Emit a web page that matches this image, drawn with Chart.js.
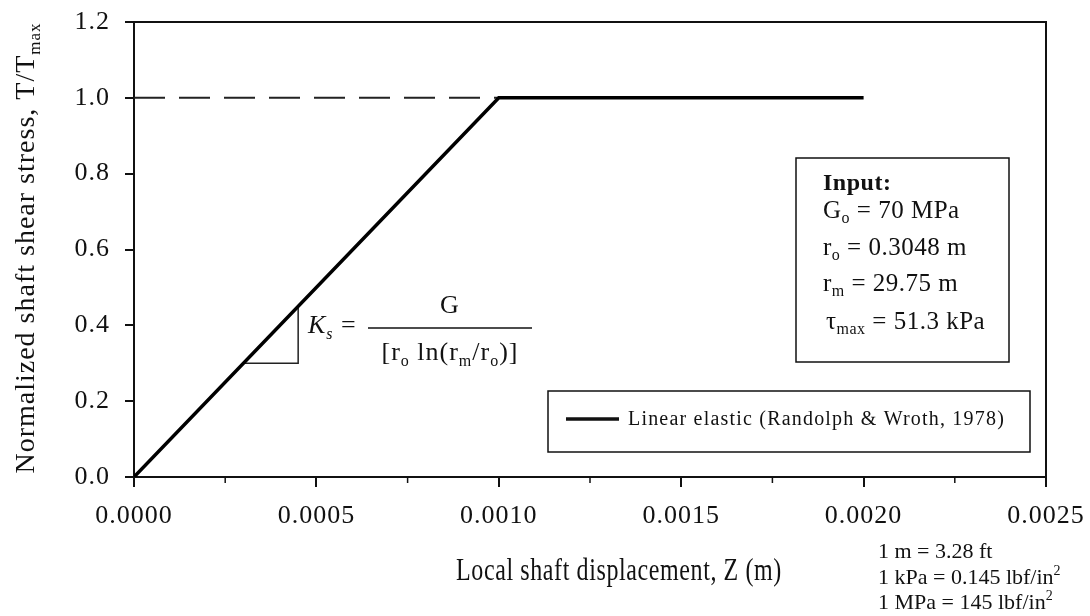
<!DOCTYPE html>
<html lang="en">
<head>
<meta charset="UTF-8">
<title>Linear elastic shaft response</title>
<script src="https://cdn.jsdelivr.net/npm/chart.js@4.4.0/dist/chart.umd.min.js"></script>
<style>
    body { margin: 0; background: #fff; }
    #chart { display: block; }
</style>
</head>
<body>
<canvas id="chart" width="1090" height="616"></canvas>
<script>
    // local shaft displacement Z (m) vs normalized shear stress T/Tmax
    const zLinear = [0, 0.0010, 0.0020];
    const tLinear = [0, 1.0, 1.0];
    const zDashed = [0, 0.0010];
    const tDashed = [1.0, 1.0];
    // small slope triangle under the elastic line
    const zSlope = [0.0003, 0.00045, 0.00045];
    const tSlope = [0.3, 0.3, 0.45];

    const xTicks = [0, 0.0005, 0.0010, 0.0015, 0.0020, 0.0025];
    const xMinor = [0.00025, 0.00075, 0.00125, 0.00175, 0.00225];
    const yTicks = [0, 0.2, 0.4, 0.6, 0.8, 1.0, 1.2];

    const legendLabel = 'Linear elastic (Randolph & Wroth, 1978)';

    const SERIF = '"Liberation Serif", "Times New Roman", serif';

    const toPts = (xs, ys) => xs.map((x, i) => ({ x: x, y: ys[i] }));

    // draws text made of [text, kind] parts; kind: '', 'b', 'i', 'sub', 'isub', 'sup'
    function rich(ctx, x, y, parts, size, align) {
        const fontFor = k => {
            if (k === 'b') return 'bold ' + size + 'px ' + SERIF;
            if (k === 'i') return 'italic ' + size + 'px ' + SERIF;
            if (k === 'sub' || k === 'sup') return Math.round(size * 0.62) + 'px ' + SERIF;
            if (k === 'isub') return 'italic ' + Math.round(size * 0.62) + 'px ' + SERIF;
            return size + 'px ' + SERIF;
        };
        let w = 0;
        parts.forEach(p => { ctx.font = fontFor(p[1]); w += ctx.measureText(p[0]).width; });
        let cx = align === 'center' ? x - w / 2 : x;
        ctx.textAlign = 'left';
        ctx.textBaseline = 'middle';
        parts.forEach(p => {
            ctx.font = fontFor(p[1]);
            let dy = 0;
            if (p[1] === 'sub' || p[1] === 'isub') dy = size * 0.32;
            if (p[1] === 'sup') dy = -size * 0.3;
            ctx.fillText(p[0], cx, y + dy);
            cx += ctx.measureText(p[0]).width;
        });
    }

    const decorations = {
        id: 'decorations',
        beforeDraw(chart) {
            chart.ctx.letterSpacing = '1px';
        },
        afterDatasetsDraw(chart) {
            const ctx = chart.ctx;
            const a = chart.chartArea;
            const xs = chart.scales.x;
            ctx.save();
            ctx.strokeStyle = '#111';
            ctx.lineWidth = 2;
            // top and right frame
            ctx.beginPath();
            ctx.moveTo(a.left, a.top);
            ctx.lineTo(a.right, a.top);
            ctx.lineTo(a.right, a.bottom);
            ctx.stroke();
            // minor ticks on x axis
            ctx.lineWidth = 1.5;
            xMinor.forEach(v => {
                const px = xs.getPixelForValue(v);
                ctx.beginPath();
                ctx.moveTo(px, a.bottom);
                ctx.lineTo(px, a.bottom + 6);
                ctx.stroke();
            });
            ctx.restore();
        },
        afterDraw(chart) {
            const ctx = chart.ctx;
            ctx.save();
            ctx.fillStyle = '#111';
            ctx.strokeStyle = '#111';

            // axis titles
            ctx.letterSpacing = '0.6px';
            ctx.save();
            ctx.translate(619, 571);
            ctx.scale(1, 1.35);
            rich(ctx, 0, 0, [['Local shaft displacement, Z (m)', '']], 24, 'center');
            ctx.restore();

            ctx.letterSpacing = '1px';
            ctx.save();
            ctx.translate(27, 248);
            ctx.rotate(-Math.PI / 2);
            rich(ctx, 0, 0, [['Normalized shaft shear stress, T/T', ''], ['max', 'sub']], 28, 'center');
            ctx.restore();

            // legend
            ctx.letterSpacing = '0px';
            ctx.lineWidth = 1.5;
            ctx.strokeRect(548, 391, 482, 61);
            ctx.lineWidth = 3.5;
            ctx.beginPath();
            ctx.moveTo(566, 419);
            ctx.lineTo(619, 419);
            ctx.stroke();
            ctx.letterSpacing = '1.2px';
            rich(ctx, 628, 420, [[legendLabel, '']], 20);

            // input box
            ctx.letterSpacing = '0.5px';
            ctx.lineWidth = 1.5;
            ctx.strokeRect(796, 158, 213, 204);
            rich(ctx, 823, 184, [['Input:', 'b']], 24);
            rich(ctx, 823, 211, [['G', ''], ['o', 'sub'], [' = 70 MPa', '']], 25);
            rich(ctx, 823, 248, [['r', ''], ['o', 'sub'], [' = 0.3048 m', '']], 25);
            rich(ctx, 823, 284, [['r', ''], ['m', 'sub'], [' = 29.75 m', '']], 25);
            rich(ctx, 826, 322, [['\u03C4', ''], ['max', 'sub'], [' = 51.3 kPa', '']], 25);

            // stiffness formula
            ctx.letterSpacing = '1px';
            rich(ctx, 308, 326, [['K', 'i'], ['s', 'isub'], [' = ', '']], 26);
            ctx.lineWidth = 1.5;
            ctx.beginPath();
            ctx.moveTo(368, 328);
            ctx.lineTo(532, 328);
            ctx.stroke();
            rich(ctx, 450, 306, [['G', '']], 26, 'center');
            rich(ctx, 450, 353, [['[r', ''], ['o', 'sub'], [' ln(r', ''], ['m', 'sub'], ['/r', ''], ['o', 'sub'], [')]', '']], 26, 'center');

            // unit conversions
            ctx.letterSpacing = '0px';
            rich(ctx, 878, 552, [['1 m = 3.28 ft', '']], 22);
            rich(ctx, 878, 578, [['1 kPa = 0.145 lbf/in', ''], ['2', 'sup']], 22);
            rich(ctx, 878, 603, [['1 MPa = 145 lbf/in', ''], ['2', 'sup']], 22);
            ctx.restore();
        }
    };

    const chart = new Chart(document.getElementById('chart'), {
        type: 'scatter',
        data: {
            datasets: [{
                label: legendLabel,
                data: toPts(zLinear, tLinear),
                showLine: true,
                borderColor: '#000',
                borderWidth: 3.5,
                pointRadius: 0,
                tension: 0
            }, {
                label: 'Tmax',
                data: toPts(zDashed, tDashed),
                showLine: true,
                borderColor: '#222',
                borderWidth: 2,
                borderDash: [31, 14],
                pointRadius: 0
            }, {
                label: 'slope',
                data: toPts(zSlope, tSlope),
                showLine: true,
                borderColor: '#222',
                borderWidth: 1.5,
                pointRadius: 0
            }]
        },
        options: {
            responsive: false,
            animation: false,
            layout: { padding: { top: 22, right: 44, bottom: 0, left: 0 } },
            plugins: {
                legend: { display: false },
                tooltip: { enabled: false }
            },
            scales: {
                x: {
                    type: 'linear',
                    min: 0,
                    max: 0.0025,
                    afterBuildTicks: s => { s.ticks = xTicks.map(v => ({ value: v })); },
                    afterFit: s => { s.height = 139; s.paddingLeft = 0; s.paddingRight = 0; },
                    border: { color: '#111', width: 2 },
                    grid: { drawOnChartArea: false, tickLength: 10, color: '#111', lineWidth: 2 },
                    ticks: {
                        autoSkip: false,
                        maxRotation: 0,
                        padding: 14,
                        color: '#111',
                        font: { family: SERIF, size: 26 },
                        callback: v => v.toFixed(4)
                    }
                },
                y: {
                    min: 0,
                    max: 1.2,
                    afterBuildTicks: s => { s.ticks = yTicks.map(v => ({ value: v })); },
                    afterFit: s => { s.width = 134; s.paddingTop = 0; s.paddingBottom = 0; },
                    border: { color: '#111', width: 2 },
                    grid: { drawOnChartArea: false, tickLength: 9, color: '#111', lineWidth: 2 },
                    ticks: {
                        padding: 15,
                        color: '#111',
                        font: { family: SERIF, size: 26 },
                        callback: v => v.toFixed(1)
                    }
                }
            }
        },
        plugins: [decorations]
    });
</script>
</body>
</html>
